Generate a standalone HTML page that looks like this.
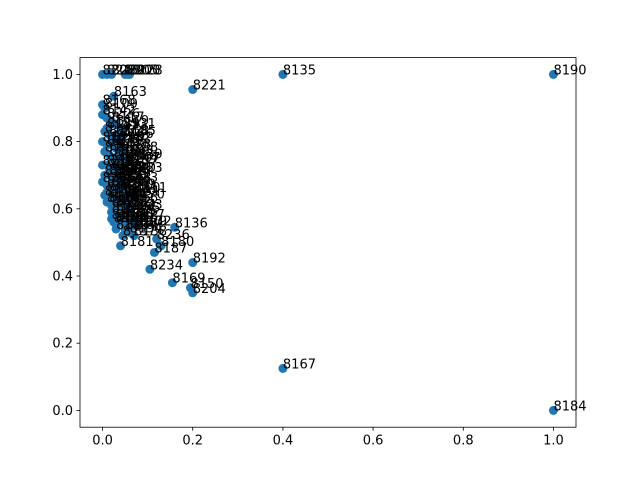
<!DOCTYPE html>
<html><head><meta charset="utf-8"><style>
body{margin:0;background:#fff}
svg{display:block;font-family:"DejaVu Sans","Liberation Sans",sans-serif}
</style></head><body>
<svg id="chart" width="640" height="480">
<rect x="0" y="0" width="640" height="480" fill="#fff"/>
<g id="marks"></g>
<g id="labels"></g>
<rect x="80" y="57.6" width="496" height="369.6" fill="none" stroke="#000" stroke-width="0.8"/>
<g id="axes"></g>
</svg>
<script>
const xs=[0.4,1.0,0.2,0.025,0.16,0.2,0.105,0.155,0.195,0.2,0.4,1.0,0.115,0.13,0.04,0.12,0.06,
0.0,0.01,0.02,0.05,0.055,0.06,0.0,0.005,0.0,0.01,0.02,0.03,0.045,0.005,0.015,0.03,0.04,0.0,0.01,0.02,0.035,0.05,0.005,0.015,0.025,0.04,0.055,0.0,0.01,0.02,0.03,0.045,0.06,0.005,0.015,0.025,0.035,0.05,0.0,0.01,0.02,0.03,0.04,0.055,0.07,0.005,0.015,0.025,0.04,0.05,0.01,0.02,0.03,0.045,0.06,0.02,0.03,0.05,0.065,0.025,0.04,0.06,0.08,0.03,0.05,0.045,0.07,
0.01,0.02,0.03,0.04,0.05,0.015,0.025,0.035,0.045,0.055,0.01,0.02,0.03,0.04,0.05,0.06,0.015,0.025,0.035,0.045,0.055,0.065,0.02,0.03,0.04,0.05,0.06,0.07,0.035,0.045];
const ys=[1.0,1.0,0.955,0.935,0.545,0.44,0.42,0.38,0.365,0.35,0.125,0.0,0.47,0.49,0.49,0.51,0.53,
1.0,1.0,1.0,1.0,1.0,1.0,0.91,0.9,0.88,0.87,0.86,0.85,0.84,0.83,0.82,0.82,0.81,0.8,0.79,0.79,0.78,0.77,0.77,0.76,0.75,0.75,0.74,0.73,0.73,0.72,0.72,0.71,0.71,0.7,0.7,0.69,0.69,0.68,0.68,0.67,0.67,0.66,0.66,0.65,0.65,0.64,0.64,0.63,0.63,0.62,0.62,0.61,0.61,0.6,0.6,0.59,0.58,0.58,0.57,0.56,0.56,0.55,0.55,0.54,0.54,0.52,0.52,
0.84,0.8,0.78,0.76,0.74,0.72,0.7,0.68,0.66,0.64,0.65,0.67,0.69,0.71,0.73,0.75,0.62,0.63,0.61,0.6,0.59,0.63,0.57,0.56,0.57,0.56,0.55,0.55,0.8,0.82];
const ids=[8135,8190,8221,8163,8136,8192,8234,8169,8150,8204,8167,8184,8187,8180,8181,8236,8194,
8201,8213,8229,8205,8200,8228,8168,8109,8142,8226,8117,8119,8131,8147,8152,8158,8166,8171,8173,8178,8183,8188,8191,8195,8198,8202,8207,8210,8212,8215,8218,8220,8223,8225,8227,8230,8232,8233,8235,8237,8238,8239,8240,8110,8111,8112,8113,8114,8115,8116,8118,8120,8121,8122,8123,8124,8125,8126,8127,8128,8129,8130,8132,8133,8134,8137,8138,
8139,8140,8141,8143,8144,8145,8146,8148,8149,8151,8153,8154,8155,8156,8157,8159,8160,8161,8162,8164,8165,8170,8172,8174,8175,8176,8177,8179,8182,8185];
const xTicks=[0.0,0.2,0.4,0.6,0.8,1.0];
const yTicks=[0.0,0.2,0.4,0.6,0.8,1.0];
const xTickLabels=["0.0","0.2","0.4","0.6","0.8","1.0"];
const yTickLabels=["0.0","0.2","0.4","0.6","0.8","1.0"];
const X=v=>80+(v+0.05)/1.1*496;
const Y=v=>427.2-(v+0.05)/1.1*369.6;
const NS="http://www.w3.org/2000/svg";
const mk=document.getElementById('marks'),lb=document.getElementById('labels'),ax=document.getElementById('axes');
for(let i=0;i<xs.length;i++){
 const c=document.createElementNS(NS,'circle');
 c.setAttribute('cx',X(xs[i]));c.setAttribute('cy',Y(ys[i]));c.setAttribute('r',4.5);c.setAttribute('fill','#1f77b4');
 
 
 mk.appendChild(c);
}
for(let i=0;i<xs.length;i++){
 const t=document.createElementNS(NS,'text');
 t.setAttribute('x',X(xs[i]));t.setAttribute('y',Y(ys[i]));t.setAttribute('font-size','13');
 t.textContent=ids[i];
 
 
 lb.appendChild(t);
}
xTicks.forEach((v,i)=>{
 const l=document.createElementNS(NS,'line');
 l.setAttribute('x1',X(v));l.setAttribute('x2',X(v));l.setAttribute('y1',427.2);l.setAttribute('y2',430.7);l.setAttribute('stroke','#000');l.setAttribute('stroke-width','0.8');
 
 
 ax.appendChild(l);
 const t=document.createElementNS(NS,'text');
 t.setAttribute('x',X(v));t.setAttribute('y',444.5);t.setAttribute('font-size','13');t.setAttribute('text-anchor','middle');
 t.textContent=xTickLabels[i];
 
 
 ax.appendChild(t);
});
yTicks.forEach((v,i)=>{
 const l=document.createElementNS(NS,'line');
 l.setAttribute('x1',76.5);l.setAttribute('x2',80);l.setAttribute('y1',Y(v));l.setAttribute('y2',Y(v));l.setAttribute('stroke','#000');l.setAttribute('stroke-width','0.8');
 
 
 ax.appendChild(l);
 const t=document.createElementNS(NS,'text');
 t.setAttribute('x',73);t.setAttribute('y',Y(v)+4.5);t.setAttribute('font-size','13');t.setAttribute('text-anchor','end');
 t.textContent=yTickLabels[i];
 
 
 ax.appendChild(t);
});
</script>
</body></html>
